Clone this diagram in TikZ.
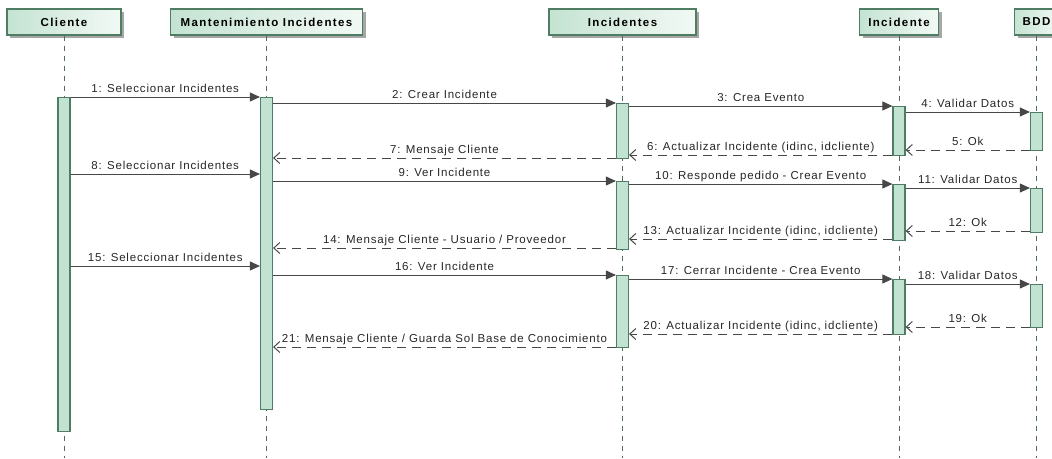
\documentclass[tikz,border=0pt]{standalone}
\usepackage{fontspec}
\setmainfont{Liberation Sans}
\newfontfamily\msgfont[LetterSpace=7]{Liberation Sans}
\newfontfamily\hdrfont[LetterSpace=12]{Liberation Sans}
\usepackage{xcolor}
\usetikzlibrary{arrows.meta,shadows}
\definecolor{boxgreen}{HTML}{4E7D63}
\definecolor{actfill}{HTML}{C3E3D2}
\definecolor{headL}{HTML}{C4E3D2}
\definecolor{headR}{HTML}{F2F9F5}
\definecolor{lifegray}{HTML}{4E6B5B}
\definecolor{msgline}{HTML}{474747}

\begin{document}
\begin{tikzpicture}[
  x=1pt,y=-1pt,
  font=\msgfont\fontsize{11.5}{13}\selectfont,
  head/.style={draw=boxgreen,line width=1.2pt,left color=headL,right color=headR,minimum height=26pt,inner sep=0pt,
    font=\hdrfont\bfseries\fontsize{11.5}{13}\selectfont,
    drop shadow={shadow xshift=3pt,shadow yshift=-3pt,fill=black!35,opacity=1}},
  act/.style={draw=boxgreen,line width=1.2pt,fill=actfill,minimum width=12pt,inner sep=0pt,anchor=north},
  life/.style={draw=lifegray,line width=1pt,dash pattern=on 5pt off 5pt},
  call/.style={draw=msgline,line width=1pt,-{Triangle[length=10pt,width=9pt]}},
  ret/.style={draw=msgline,line width=1pt,dash pattern=on 9pt off 6pt,-{Straight Barb[length=6pt,width=11pt]}},
  lbl/.style={above=2pt,midway,inner sep=0pt,text depth=2.5pt,text=black!85}
]
\useasboundingbox (0,0) rectangle (1052,458);
\coordinate (bot) at (0,458);

% lifeline heads
\node[head,minimum width=114pt] (cli) at (64,22) {Cliente};
\node[head,minimum width=192pt] (man) at (266.5,22) {Mantenimiento Incidentes};
\node[head,minimum width=147pt] (incs) at (622.5,22) {Incidentes};
\node[head,minimum width=79pt] (inc) at (899,22) {Incidente};
\node[head,minimum width=44pt] (bdd) at (1036.5,22) {BDD};

\draw[life] (cli.south) -- (cli.south |- bot);
\draw[life] (man.south) -- (man.south |- bot);
\draw[life] (incs.south) -- (incs.south |- bot);
\draw[life] (inc.south) -- (inc.south |- bot);
\draw[life] (bdd.south) -- (bdd.south |- bot);

% activations
\node[act,minimum height=334pt] (cliA) at (64,97) {};
\node[act,minimum height=312pt] (manA) at (266.5,97) {};
\node[act,minimum height=55pt] (incsA1) at (622.5,103) {};
\node[act,minimum height=68pt] (incsA2) at (622.5,181) {};
\node[act,minimum height=72pt] (incsA3) at (622.5,275) {};
\node[act,minimum height=49pt] (incA1) at (899,106) {};
\node[act,minimum height=56pt] (incA2) at (899,184) {};
\node[act,minimum height=55pt] (incA3) at (899,279) {};
\node[act,minimum height=38pt] (bddA1) at (1036.5,112) {};
\node[act,minimum height=44pt] (bddA2) at (1036.5,188) {};
\node[act,minimum height=43pt] (bddA3) at (1036.5,284) {};

% message rows
\foreach \n/\y in {1/97,2/103,3/106,4/112,5/150,6/155,7/158,8/174,9/181,10/184,11/188,
  12/231,13/239,14/248,15/266,16/275,17/279,18/284,19/327,20/334,21/347}
  \coordinate (m\n) at (0,\y);

\draw[call] (cliA.east |- m1) -- (manA.west |- m1) node[lbl] {1: Seleccionar Incidentes};
\draw[call] (manA.east |- m2) -- (incsA1.west |- m2) node[lbl] {2: Crear Incidente};
\draw[call] (incsA1.east |- m3) -- (incA1.west |- m3) node[lbl] {3: Crea Evento};
\draw[call] (incA1.east |- m4) -- (bddA1.west |- m4) node[lbl] {4: Validar Datos};
\draw[ret] (bddA1.west |- m5) -- (incA1.east |- m5) node[lbl] {5: Ok};
\draw[ret] (incA1.west |- m6) -- (incsA1.east |- m6) node[lbl] {6: Actualizar Incidente (idinc, idcliente)};
\draw[ret] (incsA1.west |- m7) -- (manA.east |- m7) node[lbl] {7: Mensaje Cliente};

\draw[call] (cliA.east |- m8) -- (manA.west |- m8) node[lbl] {8: Seleccionar Incidentes};
\draw[call] (manA.east |- m9) -- (incsA2.west |- m9) node[lbl] {9: Ver Incidente};
\draw[call] (incsA2.east |- m10) -- (incA2.west |- m10) node[lbl] {10: Responde pedido - Crear Evento};
\draw[call] (incA2.east |- m11) -- (bddA2.west |- m11) node[lbl] {11: Validar Datos};
\draw[ret] (bddA2.west |- m12) -- (incA2.east |- m12) node[lbl] {12: Ok};
\draw[ret] (incA2.west |- m13) -- (incsA2.east |- m13) node[lbl] {13: Actualizar Incidente (idinc, idcliente)};
\draw[ret] (incsA2.west |- m14) -- (manA.east |- m14) node[lbl] {14: Mensaje Cliente - Usuario / Proveedor};

\draw[call] (cliA.east |- m15) -- (manA.west |- m15) node[lbl] {15: Seleccionar Incidentes};
\draw[call] (manA.east |- m16) -- (incsA3.west |- m16) node[lbl] {16: Ver Incidente};
\draw[call] (incsA3.east |- m17) -- (incA3.west |- m17) node[lbl] {17: Cerrar Incidente - Crea Evento};
\draw[call] (incA3.east |- m18) -- (bddA3.west |- m18) node[lbl] {18: Validar Datos};
\draw[ret] (bddA3.west |- m19) -- (incA3.east |- m19) node[lbl] {19: Ok};
\draw[ret] (incA3.west |- m20) -- (incsA3.east |- m20) node[lbl] {20: Actualizar Incidente (idinc, idcliente)};
\draw[ret] (incsA3.west |- m21) -- (manA.east |- m21) node[lbl] {21: Mensaje Cliente / Guarda Sol Base de Conocimiento};
\end{tikzpicture}
\end{document}
